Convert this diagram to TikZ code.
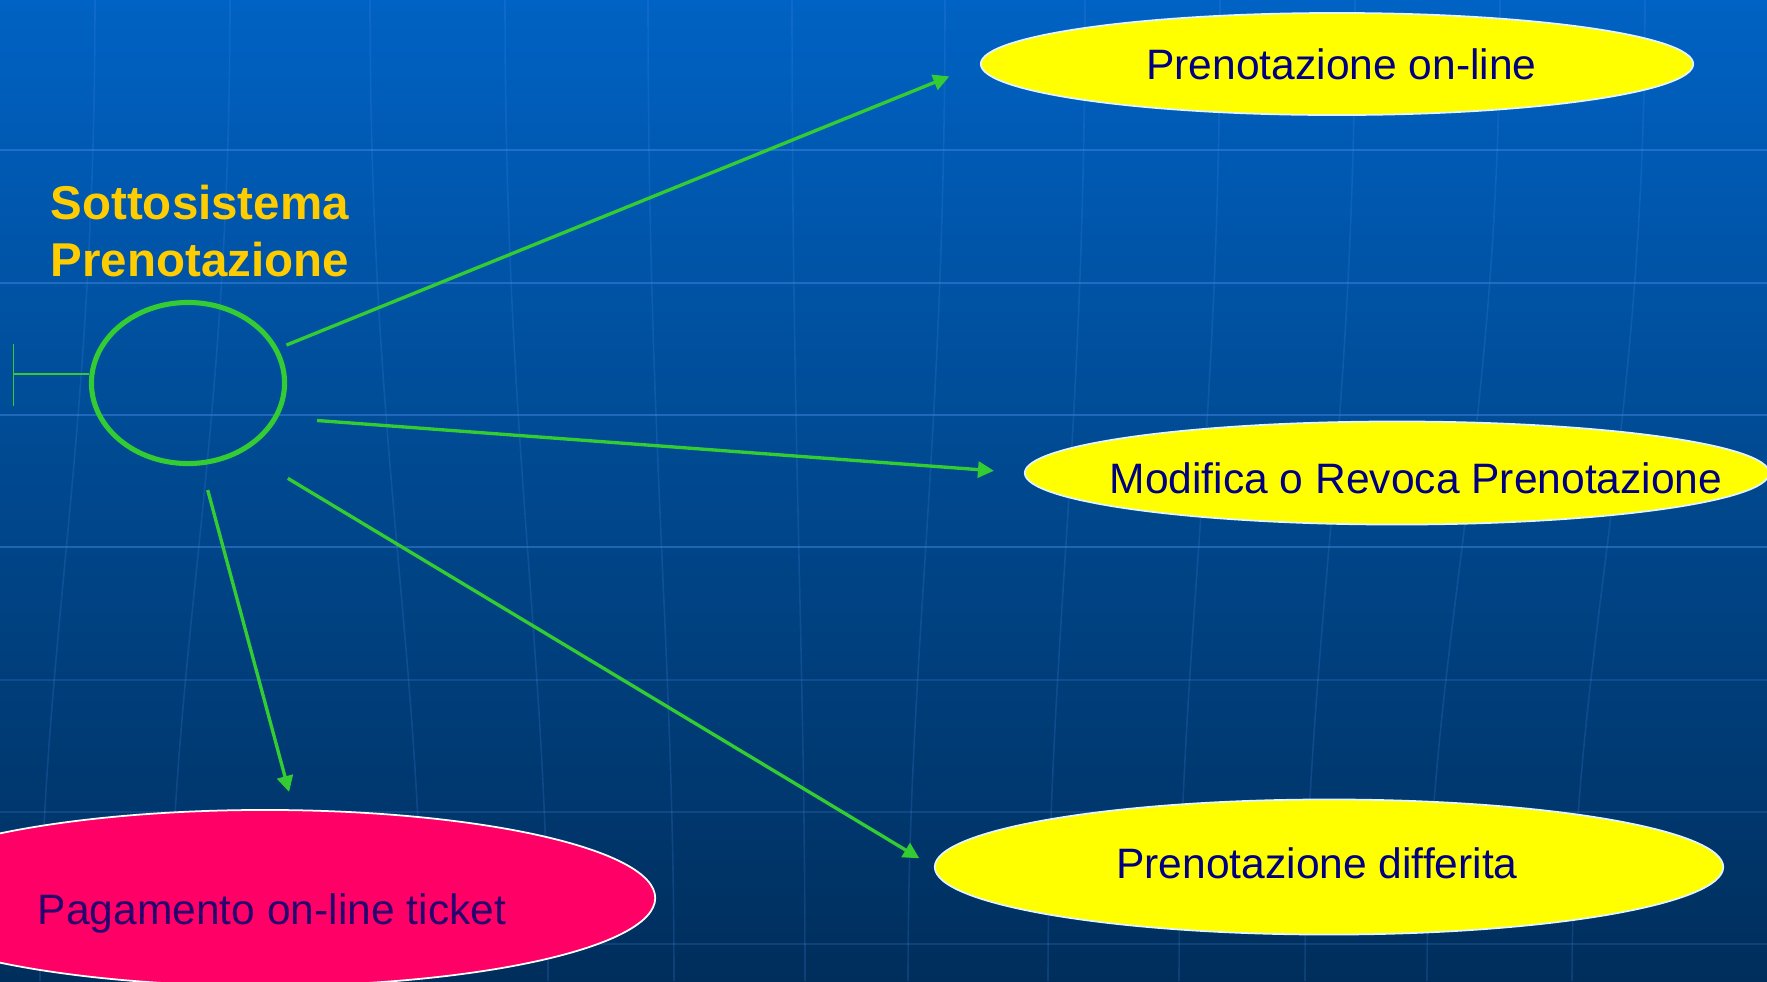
\documentclass[tikz,border=0pt]{standalone}
\usepackage{fontspec}
\setmainfont{Liberation Sans}
\usetikzlibrary{shapes.geometric,arrows.meta}

\definecolor{sfondoalto}{RGB}{0,98,196}
\definecolor{sfondomezzo}{RGB}{0,72,142}
\definecolor{sfondobasso}{RGB}{0,46,92}
\definecolor{griglia}{RGB}{70,140,230}
\definecolor{verde}{RGB}{51,204,51}
\definecolor{oro}{RGB}{255,204,0}
\definecolor{giallo}{RGB}{255,255,0}
\definecolor{rosa}{RGB}{255,0,102}
\definecolor{blunotte}{RGB}{0,0,128}
\definecolor{violanotte}{RGB}{40,0,110}

% testo spostato dentro l'ellisse: {dx}{abbassamento}{testo}
\newcommand{\voce}[3]{\makebox[0pt]{\hspace*{#1}\raisebox{-#2}[0pt][0pt]{#3}}}

\tikzset{
  caso/.style={ellipse, draw=cyan!12, line width=0.5pt, fill=giallo, text=blunotte,
    inner sep=0pt, font=\fontsize{12.1}{14.5}\selectfont},
  freccia/.style={verde, line width=0.95pt, -{Triangle[length=0.16cm,width=0.16cm]}},
}

\begin{document}
\begin{tikzpicture}[x=0.01cm, y=-0.01cm]
    % Sfondo
    \useasboundingbox (0,0) rectangle (1767,981);
    \shade[top color=sfondoalto, bottom color=sfondobasso, middle color=sfondomezzo] (0,0) rectangle (1767,981);

    % Griglia
    \foreach \y in {150,283,415,547}
        \draw[griglia, opacity=0.45, line width=0.6pt] (0,\y) -- (1767,\y);
    \foreach \y in {680,812,944}
        \draw[griglia, opacity=0.2, line width=0.6pt] (0,\y) -- (1767,\y);
    \foreach \x/\b in {95/40, 230/170, 370/422, 505/548, 648/674, 792/805, 945/908, 1085/1048, 1220/1179, 1355/1305, 1500/1427, 1645/1572}
        \draw[griglia, opacity=0.2, line width=0.45pt] (\x,0) .. controls (\x,450) and (\b,650) .. (\b,981);

    % Titolo
    \node[anchor=north west, inner sep=0pt, align=left, text=oro,
          font=\bfseries\fontsize{13.5}{16.3}\selectfont] (titolo) at (50,184) {Sottosistema\\Prenotazione};

    % Attore (boundary)
    \node[ellipse, draw=verde, line width=1.45pt, minimum width=1.93cm, minimum height=1.61cm, inner sep=0pt] (attore) at (188,383) {};
    \coordinate (asta) at (13.5,374);
    \draw[verde, line width=0.45pt] (13.5,344) -- (13.5,406);
    \draw[verde, line width=0.45pt] (asta) -- (attore.west |- asta);

    % Casi d'uso
    \node[caso, minimum width=7.12cm, minimum height=1.02cm] (online) at (1337,64) {\voce{0.09cm}{0.15cm}{Prenotazione on-line}};
    \node[caso, minimum width=7.44cm, minimum height=1.03cm] (modifica) at (1397,473) {\voce{0.38cm}{0.205cm}{Modifica o Revoca Prenotazione}};
    \node[caso, minimum width=7.88cm, minimum height=1.35cm] (differita) at (1329,867) {\voce{-0.24cm}{0.11cm}{Prenotazione differita}};
    \node[caso, fill=rosa, draw=white, text=violanotte, minimum width=7.8cm, minimum height=1.76cm] (ticket) at (265,898) {\voce{0.14cm}{0.26cm}{Pagamento on-line ticket}};

    % Frecce
    \draw[freccia, shorten <=0.09cm, shorten >=0.33cm] (attore.21) -- (online.west);
    \draw[freccia, shorten <=0.39cm, shorten >=0.30cm] (attore.-21) -- (modifica.west);
    \draw[freccia, shorten <=0.515cm, shorten >=0.17cm] (attore.-51) -- (differita.west);
    \draw[freccia, shorten <=0.255cm, shorten >=0.18cm] (attore.-81) -- (ticket.72);
\end{tikzpicture}
\end{document}
